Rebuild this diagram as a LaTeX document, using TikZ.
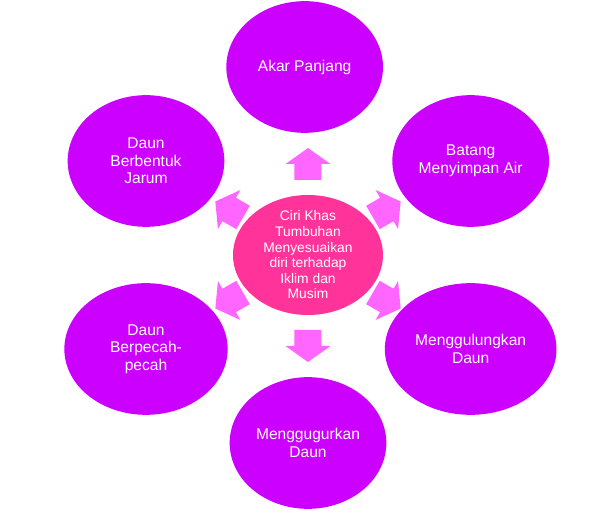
\documentclass[tikz,border=0pt]{standalone}
\usepackage{fontspec}
\setmainfont{Liberation Sans}
\definecolor{hubpink}{HTML}{FF3399}
\definecolor{leafpurple}{HTML}{CC00FF}
\definecolor{arrpink}{HTML}{FF66FF}
\usetikzlibrary{shapes.geometric}

\begin{document}
\begin{tikzpicture}[
  hub/.style={
    ellipse, fill=hubpink, text=white,
    minimum width=4.5cm, minimum height=3.6cm,
    inner xsep=0pt, inner ysep=-0.15cm,
    align=center, font=\fontsize{11.8}{13.3}\selectfont},
  leaf/.style={
    ellipse, fill=leafpurple, text=white,
    minimum width=4.7cm, minimum height=3.95cm,
    inner sep=0pt,
    align=center, font=\fontsize{13.3}{15}\selectfont},
  blk/.style={fill=arrpink},
]
  \useasboundingbox (-9.24,-7.74) rectangle (8.94,7.65);

  \node[hub] (H) at (0,0) {Ciri Khas\\Tumbuhan\\Menyesuaikan\\diri terhadap\\Iklim dan\\Musim};

  \node[leaf] (A) at (-0.1,5.64)  {Akar Panjang};
  \node[leaf] (B) at (4.88,2.82)  {Batang\\Menyimpan Air};
  \node[leaf,minimum width=5.15cm] (C) at (4.88,-2.82) {Menggulungkan\\Daun};
  \node[leaf] (D) at (0,-5.64)    {Menggugurkan\\Daun};
  \node[leaf,minimum width=4.9cm] (E) at (-4.86,-2.82) {Daun\\Berpecah-\\pecah};
  \node[leaf] (F) at (-4.86,2.82) {Daun\\Berbentuk\\Jarum};

  % block arrows from the hub outwards
  \foreach \ang in {90,30,-30,-90,-150,150}{
    \fill[blk, shift={(\ang:2.73)}, rotate=\ang-90]
      (0,0.48) -- (0.675,0) -- (0.405,0) -- (0.405,-0.48)
      -- (-0.405,-0.48) -- (-0.405,0) -- (-0.675,0) -- cycle;
  }
\end{tikzpicture}
\end{document}
